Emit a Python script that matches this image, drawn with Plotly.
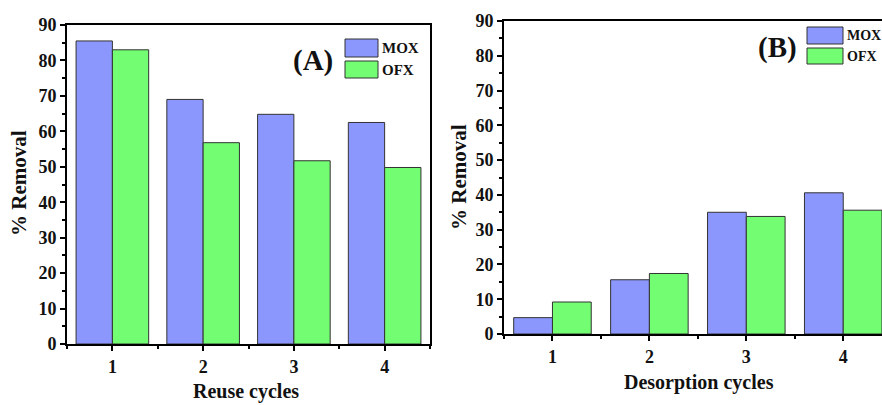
import plotly.graph_objects as go

cycles = [1, 2, 3, 4]
reuse_mox = [85.5, 69.0, 64.8, 62.5]
reuse_ofx = [83.0, 56.8, 51.7, 49.8]
desorb_mox = [4.7, 15.6, 35.0, 40.6]
desorb_ofx = [9.2, 17.4, 33.8, 35.6]
y_ticks = [0, 10, 20, 30, 40, 50, 60, 70, 80, 90]

MOX_C = "#8c97fd"
OFX_C = "#73fd73"
EDGE = "#333333"
FONT = "Liberation Serif"
TXT = "#111111"

W, H = 882, 405
def px(x):
    return x / W
def py(y):
    return 1 - y / H

fig = go.Figure()
for xa, ya, mox, ofx in [("x", "y", reuse_mox, reuse_ofx), ("x2", "y2", desorb_mox, desorb_ofx)]:
    fig.add_trace(go.Bar(x=cycles, y=mox, name="MOX", marker=dict(color=MOX_C, line=dict(color=EDGE, width=1)),
                         xaxis=xa, yaxis=ya, showlegend=False))
    fig.add_trace(go.Bar(x=cycles, y=ofx, name="OFX", marker=dict(color=OFX_C, line=dict(color=EDGE, width=1)),
                         xaxis=xa, yaxis=ya, showlegend=False))

tickfont = dict(family=FONT, size=18, color=TXT, weight="bold")
common_x = dict(tickvals=cycles, ticks="outside", ticklen=5, tickwidth=1.5, tickcolor="black",
                showline=True, linecolor="black", linewidth=2, showgrid=False, zeroline=False, automargin=False,
                tickfont=tickfont, minor=dict(dtick=0.5, tick0=0.5, ticks="outside", ticklen=3, tickcolor="black"))
common_y = dict(tickvals=y_ticks, ticks="outside", ticklen=5, tickwidth=1.5, tickcolor="black",
                showline=True, linecolor="black", linewidth=2, showgrid=False, zeroline=False, automargin=False,
                tickfont=tickfont, range=[0, 90],
                minor=dict(dtick=5, ticks="outside", ticklen=3, tickcolor="black"))

fig.update_layout(
    width=W, height=H, margin=dict(l=0, r=0, t=0, b=0, pad=0), autosize=False,
    paper_bgcolor="white", plot_bgcolor="white",
    barmode="group", bargap=0.2, bargroupgap=0,
    xaxis=dict(domain=[px(67), px(430)], range=[0.5, 4.5], anchor="y", mirror=True, **common_x),
    yaxis=dict(domain=[py(344), py(25)], anchor="x", mirror=True, **common_y),
    xaxis2=dict(domain=[px(504), 1.0], range=[0.5, 4.4], anchor="y2", mirror=True, **common_x),
    yaxis2=dict(domain=[py(334), py(21)], anchor="x2", mirror=False, **common_y),
)

ann = []
shapes = []
def txt(x, y, s, size, angle=0, xanchor="center"):
    ann.append(dict(x=px(x), y=py(y), xref="paper", yref="paper", text="<b>%s</b>" % s, showarrow=False,
                    font=dict(family=FONT, size=size, color=TXT), textangle=angle, xanchor=xanchor, yanchor="middle"))

# axis titles
txt(19, 183, "% Removal", 21, -90)
txt(246, 391, "Reuse cycles", 20)
txt(459, 177, "% Removal", 21, -90)
txt(699, 382, "Desorption cycles", 20)

# panel labels
txt(313, 60, "(A)", 29)
txt(777, 48, "(B)", 29)

# legends
def legend(x0, x1, ys, labels, fs):
    for (y0, y1), lab, col in zip(ys, labels, [MOX_C, OFX_C]):
        shapes.append(dict(type="rect", xref="paper", yref="paper", x0=px(x0), x1=px(x1), y0=py(y1), y1=py(y0),
                           fillcolor=col, line=dict(color=EDGE, width=1)))
        txt(x1 + 2, (y0 + y1) / 2, lab, fs, xanchor="left")

legend(345, 378, [(39, 57), (61, 78)], ["MOX", "OFX"], 15)
legend(807, 843, [(27, 44), (48, 64)], ["MOX", "OFX"], 14)

fig.update_layout(annotations=ann, shapes=shapes)
fig.write_html("out.html")
